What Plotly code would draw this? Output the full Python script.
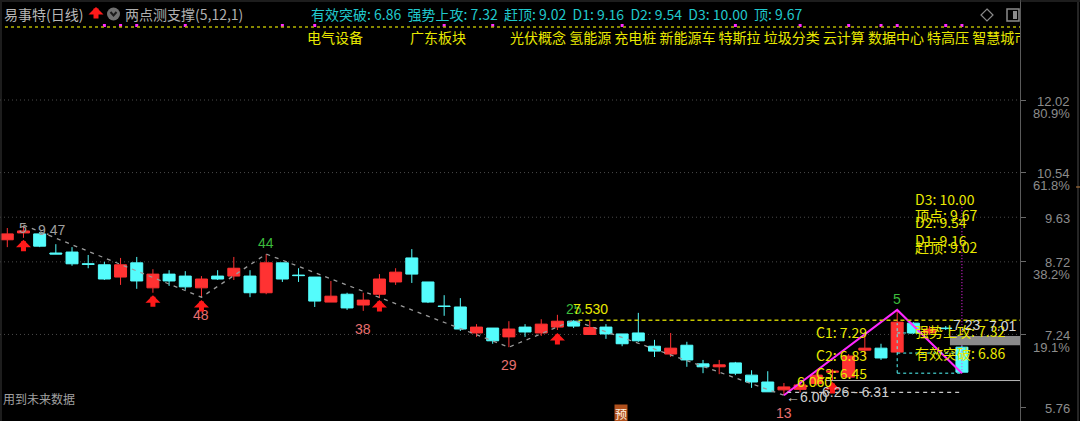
import plotly.graph_objects as go

# 日线 K 线数据 (易事特)
opens = [9.17, 9.31, 9.29, 8.90, 8.92, 8.68, 8.66, 8.41, 8.70, 8.19,
         8.47, 8.43, 8.19, 8.43, 8.43, 8.43, 8.09, 8.70, 8.45, 8.41,
         7.90, 8.06, 7.84, 8.06, 8.31, 8.80, 8.31, 7.82, 7.80, 7.27,
         7.37, 7.19, 7.39, 7.27, 7.39, 7.51, 7.24, 7.39, 7.25, 7.27,
         7.00, 6.84, 7.02, 6.64, 6.58, 6.66, 6.41, 6.27, 6.11, 6.12,
         6.24, 6.47, 6.37, 6.92, 6.96, 6.88, 7.47, 7.27, 7.37, 6.98]
highs = [9.41, 9.45, 9.33, 9.08, 9.02, 8.86, 8.72, 8.80, 8.82, 8.57,
         8.55, 8.53, 8.43, 8.55, 8.82, 8.55, 8.88, 8.70, 8.59, 8.41,
         8.33, 8.09, 8.09, 8.47, 8.59, 8.98, 8.31, 8.04, 7.98, 7.45,
         7.37, 7.51, 7.45, 7.55, 7.64, 7.53, 7.52, 7.45, 7.25, 7.68,
         7.13, 7.27, 7.09, 6.72, 6.72, 6.68, 6.51, 6.49, 6.25, 6.26,
         6.47, 6.53, 6.84, 7.23, 7.05, 7.74, 7.49, 7.41, 7.41, 7.01]
lows = [9.02, 9.21, 9.02, 8.88, 8.64, 8.59, 8.35, 8.25, 8.17, 8.09,
        8.23, 8.15, 8.00, 8.35, 8.35, 8.00, 8.06, 8.31, 8.31, 7.80,
        7.90, 7.74, 7.72, 7.98, 8.25, 8.29, 7.88, 7.62, 7.31, 7.19,
        7.05, 6.98, 7.19, 7.21, 7.33, 7.37, 7.24, 7.15, 7.00, 7.09,
        6.78, 6.78, 6.58, 6.45, 6.43, 6.41, 6.15, 6.07, 6.00, 6.06,
        6.20, 6.31, 6.37, 6.78, 6.72, 6.88, 7.25, 7.23, 7.33, 6.45]
closes = [9.29, 9.35, 9.04, 8.88, 8.68, 8.67, 8.37, 8.66, 8.33, 8.47,
          8.33, 8.21, 8.37, 8.37, 8.59, 8.09, 8.70, 8.37, 8.44, 7.92,
          8.02, 7.78, 7.94, 8.37, 8.51, 8.47, 7.90, 7.81, 7.35, 7.39,
          7.11, 7.35, 7.29, 7.45, 7.51, 7.41, 7.38, 7.25, 7.05, 7.11,
          6.90, 6.96, 6.72, 6.58, 6.62, 6.45, 6.27, 6.07, 6.17, 6.21,
          6.41, 6.49, 6.80, 6.96, 6.76, 7.49, 7.27, 7.35, 7.36, 6.47]
bars = list(range(len(opens)))

# 右侧坐标 (价格 / 黄金分割)
tick_prices = [12.02, 10.54, 9.63, 8.72, 7.24, 5.76]
tick_text = ['12.02', '10.54', '9.63', '8.72', '7.24', '5.76']
tick_pct = ['80.9%', '61.8%', '', '38.2%', '19.1%', '']
grid_prices = [12.02, 10.54, 9.63, 8.72, 7.24]

# 之字形转折点 与 计数
zz_bars = [1, 12, 16, 31, 35, 48]
zz_prices = [9.47, 8.00, 8.88, 6.98, 7.53, 6.00]
pivot_bars = [12, 16, 22, 31, 35, 48, 55]
pivot_prices = [8.00, 8.88, 7.72, 6.98, 7.53, 6.00, 7.74]
pivot_text = ['48', '44', '38', '29', '25', '13', '5']
pivot_up = [False, True, False, False, True, False, True]

# 两点测支撑 (粉色线)
wave_bars = [48, 55, 59]
wave_prices = [6.00, 7.74, 6.45]

# 红色箭头信号
arrow_bars = [1, 9, 12, 23, 34, 51]
arrow_prices = [9.17, 8.04, 7.94, 7.94, 7.27, 6.27]

# 顶部信号点
flag_bars = [6, 7, 8, 11, 17, 19, 27, 30, 38, 45, 49, 52, 54, 55, 58, 59]

# 目标位
c_names = ['C1', 'C2', 'C3']
c_values = [7.29, 6.83, 6.45]
d_names = ['D3', '顶点', 'D2', 'D1', '赶顶']
d_values = [10.00, 9.67, 9.54, 9.16, 9.02]
breakout = 6.86
strong = 7.32
high_line = 7.53
low_line = 6.06
support_line = 6.30
box_lo, box_hi = 7.02, 7.21

concepts = ['电气设备', '广东板块',
            '光伏概念 氢能源 充电桩 新能源车 特斯拉 垃圾分类 云计算 数据中心 特高压 智慧城市']

RED = '#ff3232'
CYAN = '#54fcfc'
YELLOW = '#e8e800'
GRAY = '#8c8c8c'
MAGENTA = '#ff28ff'
SALMON = '#e87070'
GREEN = '#3cbc3c'
CJK = 'Noto Sans CJK SC'

# 像素 -> 坐标
W_PLOT, H = 1020, 421
Y_TOP, Y_BOT = 14.059, 5.475
X_LEFT, X_RIGHT = -0.451, 62.59


def xd(px):
    return X_LEFT + px * (X_RIGHT - X_LEFT) / W_PLOT


def yd(py):
    return Y_TOP - py * (Y_TOP - Y_BOT) / H


def pxp(px):
    return px / W_PLOT


def pyp(py):
    return 1 - py / H


fig = go.Figure()

fig.add_trace(go.Candlestick(
    x=bars, open=opens, high=highs, low=lows, close=closes,
    increasing=dict(line=dict(color=RED, width=1), fillcolor=RED),
    decreasing=dict(line=dict(color=CYAN, width=1), fillcolor=CYAN),
    whiskerwidth=0, hoverinfo='skip', showlegend=False))

fig.add_trace(go.Scatter(x=zz_bars, y=zz_prices, mode='lines',
                         line=dict(color='#9a9a9a', width=1.3, dash='4px,5px'),
                         hoverinfo='skip', showlegend=False))
fig.add_trace(go.Scatter(x=wave_bars, y=wave_prices, mode='lines',
                         line=dict(color=MAGENTA, width=2),
                         hoverinfo='skip', showlegend=False))
fig.add_trace(go.Scatter(x=flag_bars, y=[yd(25.5)] * len(flag_bars), mode='markers',
                         marker=dict(symbol='square', size=3, color=MAGENTA),
                         hoverinfo='skip', showlegend=False))

# 概念板块 (右侧被裁切)
fig.add_trace(go.Scatter(x=[xd(307), xd(410), xd(510)], y=[yd(39)] * 3,
                         mode='text', text=concepts, textposition='middle right',
                         textfont=dict(family=CJK, size=14, color=YELLOW),
                         hoverinfo='skip', showlegend=False, cliponaxis=True))

shapes = []
for p in grid_prices:
    shapes.append(dict(type='line', xref='x', yref='y', x0=X_LEFT, x1=X_RIGHT, y0=p, y1=p,
                       line=dict(color='#4a4a4a', width=1, dash='1px,3px'), layer='below'))
# 顶部黄色虚线
shapes.append(dict(type='line', xref='paper', yref='paper', x0=pxp(5), x1=1, y0=pyp(27), y1=pyp(27),
                   line=dict(color='#b4b400', width=1.5, dash='3px,3px')))
shapes.append(dict(type='line', xref='paper', yref='paper', x0=0, x1=1080 / W_PLOT, y0=pyp(1), y1=pyp(1),
                   line=dict(color='#3a3a3a', width=1)))
shapes.append(dict(type='line', xref='paper', yref='paper', x0=pxp(1), x1=pxp(1), y0=0, y1=pyp(2),
                   line=dict(color='#3a3a3a', width=1)))
shapes.append(dict(type='line', xref='paper', yref='paper', x0=pxp(1078), x1=pxp(1078), y0=0, y1=pyp(2),
                   line=dict(color='#4a4a4a', width=1)))
shapes.append(dict(type='line', xref='paper', yref='paper', x0=pxp(1076), x1=pxp(1080), y0=pyp(187), y1=pyp(187),
                   line=dict(color='#c08040', width=1)))
# 高点黄线
shapes.append(dict(type='line', xref='x', yref='y', x0=zz_bars[4] + 0.3, x1=X_RIGHT, y0=high_line, y1=high_line,
                   line=dict(color='#c8c800', width=1.5, dash='4px,3px')))
# 支撑白线
shapes.append(dict(type='line', xref='x', yref='y', x0=50.6, x1=X_RIGHT, y0=support_line, y1=support_line,
                   line=dict(color='#b8b8b8', width=1)))
shapes.append(dict(type='line', xref='x', yref='y', x0=48.2, x1=59, y0=low_line, y1=low_line,
                   line=dict(color='#c8c8c8', width=1.3, dash='4px,4px')))
# 青色虚线框
peak_bar = wave_bars[1]
end_bar = wave_bars[2]
shapes.append(dict(type='line', xref='x', yref='y', x0=peak_bar, x1=peak_bar, y0=c_values[2], y1=7.47,
                   line=dict(color=CYAN, width=1, dash='3px,3px')))
for y0, x1 in [(7.27, peak_bar + 1), (breakout, end_bar), (c_values[2], end_bar)]:
    shapes.append(dict(type='line', xref='x', yref='y', x0=peak_bar, x1=x1, y0=y0, y1=y0,
                       line=dict(color=CYAN, width=1, dash='3px,3px')))
# 粉色竖虚线
shapes.append(dict(type='line', xref='x', yref='y', x0=end_bar, x1=end_bar, y0=wave_prices[2], y1=d_values[0],
                   line=dict(color=MAGENTA, width=1, dash='1px,2px')))
# 灰色价格框
shapes.append(dict(type='rect', xref='x', yref='y', x0=58.26, x1=X_RIGHT, y0=box_lo, y1=box_hi,
                   fillcolor='#8a8a8a', line=dict(width=0)))
# 顶部图标
shapes.append(dict(type='circle', xref='paper', yref='paper', x0=pxp(107), x1=pxp(120), y0=pyp(20.5), y1=pyp(7.5),
                   fillcolor='#707070', line=dict(width=0)))
shapes.append(dict(type='path', xref='paper', yref='paper',
                   path='M %f,%f L %f,%f L %f,%f' % (pxp(110.5), pyp(12), pxp(113.5), pyp(15.5), pxp(116.5), pyp(12)),
                   line=dict(color='#1a1a1a', width=2)))
shapes.append(dict(type='path', xref='paper', yref='paper',
                   path='M %f,%f L %f,%f L %f,%f L %f,%f Z' % (pxp(987), pyp(9), pxp(993), pyp(15),
                                                               pxp(987), pyp(21), pxp(981), pyp(15)),
                   line=dict(color='#8a8a8a', width=1.2)))
shapes.append(dict(type='rect', xref='paper', yref='paper', x0=pxp(1007), x1=pxp(1019), y0=pyp(21), y1=pyp(9),
                   line=dict(color='#8a8a8a', width=1.5)))
shapes.append(dict(type='rect', xref='paper', yref='paper', x0=pxp(1013), x1=pxp(1017), y0=pyp(19), y1=pyp(11),
                   fillcolor='#8a8a8a', line=dict(width=0)))

ann = []


def label(x, y, text, color, size=14, family=CJK, xanchor='left', yanchor='middle',
          xref='x', yref='y', yshift=0, xshift=0, **kw):
    ann.append(dict(x=x, y=y, xref=xref, yref=yref, text=text, showarrow=False,
                    xanchor=xanchor, yanchor=yanchor, yshift=yshift, xshift=xshift,
                    font=dict(family=family, size=size, color=color), **kw))


# 右侧坐标标签
for p, t, pct in zip(tick_prices, tick_text, tick_pct):
    label(pxp(1072), p, t, GRAY, size=13, family='Liberation Sans', xanchor='right', xref='paper', yshift=-1)
    if pct:
        label(pxp(1072), p, pct, GRAY, size=13, family='Liberation Sans', xanchor='right', xref='paper', yshift=-13)

# 转折点计数
for b, p, t, up in zip(pivot_bars, pivot_prices, pivot_text, pivot_up):
    if up:
        label(b, p, t, GREEN, family='Liberation Sans', xanchor='center', yanchor='bottom', yshift=1)
    else:
        label(b, p, t, SALMON, family='Liberation Sans', xanchor='center', yanchor='top', yshift=-8)
label(zz_bars[0], zz_prices[0], '5', '#a0a0a0', family='Liberation Sans', xanchor='center', yshift=-3)
label(zz_bars[0], zz_prices[0], '%.2f' % zz_prices[0], '#a0a0a0', family='Liberation Sans', xshift=13, yshift=-5)
label(zz_bars[4], zz_prices[4], '%.3f' % zz_prices[4], YELLOW, family='Liberation Sans',
      xshift=-3, yanchor='bottom', yshift=1)

# 红色箭头
for b, p in zip(arrow_bars, arrow_prices):
    ann.append(dict(x=b, y=p, xref='x', yref='y', ax=0, ay=13, showarrow=True, text='',
                    arrowhead=1, arrowwidth=5, arrowsize=0.5, arrowcolor='#ff1a1a'))
ann.append(dict(x=pxp(96), y=pyp(7), xref='paper', yref='paper', ax=0, ay=13, showarrow=True, text='',
                arrowhead=1, arrowwidth=5, arrowsize=0.5, arrowcolor='#ff1a1a'))

# 目标位文字
for n, v in zip(c_names, c_values):
    label(50, v, '%s: %.2f' % (n, v), YELLOW, xshift=-2)
for n, v in zip(d_names, d_values):
    label(56, v, '%s: %.2f' % (n, v), YELLOW)
label(56, strong, '强势上攻: %.2f' % strong, YELLOW)
label(56, breakout, '有效突破: %.2f' % breakout, YELLOW)
label(58.5, 7.23, '7.23', '#d8d8d8', family='Liberation Sans', yanchor='bottom', xshift=-3)
label(X_RIGHT, box_hi, '%.2f' % 7.01, '#d8d8d8', family='Liberation Sans', xanchor='right', yanchor='bottom', xshift=-2)
label(48.8, low_line, '%.3f' % low_line, YELLOW, family='Liberation Sans', yanchor='bottom', xshift=-2)
label(48, lows[48], '←%.2f' % lows[48], '#d0d0d0', family='Liberation Sans', yshift=-2)
label(52.4, low_line, '6.26 - 6.31', '#c8c8c8', family='Liberation Sans', xanchor='center')

# 顶部标题
label(pxp(2), pyp(14), '易事特(日线)', '#b8b8b8', xref='paper', yref='paper')
label(pxp(123), pyp(14), '两点测支撑(5,12,1)', '#b0b0b0', xref='paper', yref='paper')
label(pxp(309), pyp(14),
      '有效突破: 6.86  强势上攻: 7.32  赶顶: 9.02  D1: 9.16  D2: 9.54  D3: 10.00  顶: 9.67',
      '#20c8cc', xref='paper', yref='paper')
label(pxp(1), pyp(398), '用到未来数据', '#a0a0a0', size=12, xref='paper', yref='paper')
label(pxp(621), pyp(413), '预', '#fff0e0', size=12, xanchor='center', xref='paper', yref='paper',
      bgcolor='#b0501c', borderpad=0)

fig.update_layout(
    width=1080, height=421,
    margin=dict(l=0, r=60, t=0, b=0),
    paper_bgcolor='black', plot_bgcolor='black',
    font=dict(family='Liberation Sans', color=GRAY),
    boxgap=0.26, boxgroupgap=0,
    shapes=shapes, annotations=ann,
    xaxis=dict(range=[X_LEFT, X_RIGHT], visible=False, rangeslider=dict(visible=False), fixedrange=True),
    yaxis=dict(range=[Y_BOT, Y_TOP], side='right', tickvals=tick_prices, showticklabels=False,
               ticks='outside', ticklen=5, tickcolor='#6a6a6a', showgrid=False, zeroline=False,
               showline=True, linecolor='#5a5a5a', linewidth=1, fixedrange=True),
)

# 去掉页面默认边距和工具栏, 让图贴满窗口
fig.write_html("out.html", config={'displayModeBar': False},
               post_script="document.body.style.margin='0';document.body.style.background='black';")
